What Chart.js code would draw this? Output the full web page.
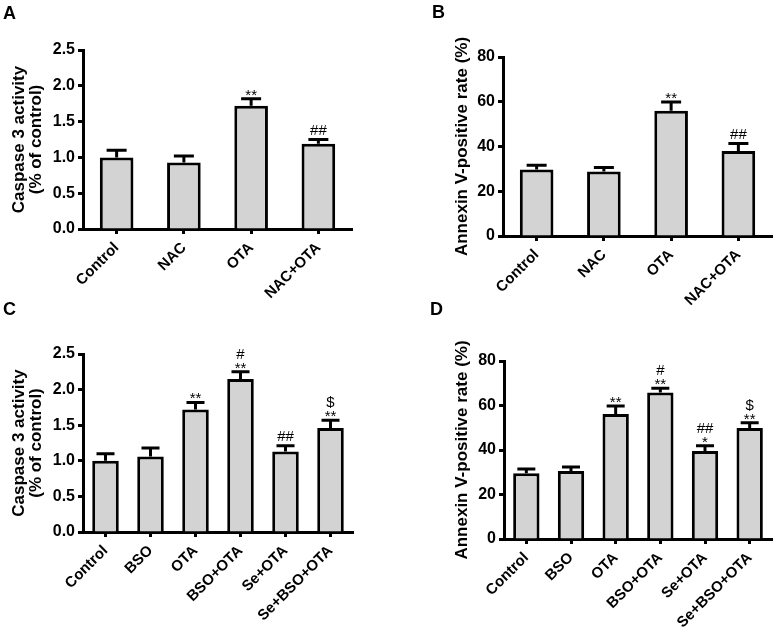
<!DOCTYPE html>
<html>
<head>
<meta charset="utf-8">
<script src="https://cdn.jsdelivr.net/npm/chart.js@4.4.1/dist/chart.umd.min.js"></script>
<style>
  body { margin: 0; background: #fff; }
  #wrap { position: relative; width: 774px; height: 627px; overflow: hidden; background: #fff; }
  canvas { position: absolute; }
  .tag { position: absolute; font: bold 18px 'Liberation Sans', Arial, sans-serif; line-height: 1; color: #000; }
</style>
</head>
<body>
<div id="wrap">
  <canvas id="chartA" width="387" height="320" style="left:0;top:0"></canvas>
  <canvas id="chartB" width="384" height="327" style="left:390px;top:0"></canvas>
  <canvas id="chartC" width="387" height="327" style="left:0;top:300px"></canvas>
  <canvas id="chartD" width="384" height="327" style="left:390px;top:300px"></canvas>
  <div class="tag" style="left:3px;top:4px">A</div>
  <div class="tag" style="left:432px;top:3px">B</div>
  <div class="tag" style="left:3px;top:300px">C</div>
  <div class="tag" style="left:430px;top:300px">D</div>
</div>
<script>
// group names
const groupsAB = ['Control', 'NAC', 'OTA', 'NAC+OTA'];
const groupsCD = ['Control', 'BSO', 'OTA', 'BSO+OTA', 'Se+OTA', 'Se+BSO+OTA'];

// panel A - caspase 3 (mean, SEM)
const caspaseA = [1.0, 0.93, 1.72, 1.19];
const caspaseAErr = [0.10, 0.09, 0.10, 0.06];
const marksA = [[], [], ['**'], ['##']];

// panel B - annexin V
const annexinB = [29.7, 28.8, 56.0, 38.0];
const annexinBErr = [1.9, 1.8, 3.9, 3.3];
const marksB = [[], [], ['**'], ['##']];

// panel C - caspase 3
const caspaseC = [1.0, 1.06, 1.72, 2.15, 1.13, 1.46];
const caspaseCErr = [0.10, 0.12, 0.10, 0.10, 0.08, 0.11];
const marksC = [[], [], ['**'], ['**', '#'], ['##'], ['**', '$']];

// panel D - annexin V
const annexinD = [29.6, 30.6, 56.2, 65.8, 39.5, 49.9];
const annexinDErr = [1.9, 1.8, 3.6, 1.9, 2.4, 2.3];
const marksD = [[], [], ['**'], ['**', '#'], ['*', '##'], ['**', '$']];

const caspaseTitle = ['Caspase 3 activity', '(% of control)'];
const annexinTitle = 'Annexin V-positive rate (%)';

const FONT = "'Liberation Sans', Arial, sans-serif";
const BAR_FILL = '#d3d3d3';

// error bars (upper only) and significance marks
const sigPlugin = {
  id: 'sig',
  afterDatasetsDraw(chart, args, opts) {
    const ctx = chart.ctx;
    const yScale = chart.scales.y;
    const vals = chart.data.datasets[0].data;
    const meta = chart.getDatasetMeta(0);
    ctx.save();
    ctx.strokeStyle = '#000';
    ctx.fillStyle = '#000';
    ctx.lineWidth = 3;
    ctx.font = '15px ' + FONT;
    ctx.textAlign = 'center';
    ctx.textBaseline = 'alphabetic';
    meta.data.forEach((bar, i) => {
      const yTop = yScale.getPixelForValue(vals[i] + opts.err[i]);
      ctx.beginPath();
      ctx.moveTo(bar.x, bar.y);
      ctx.lineTo(bar.x, yTop);
      ctx.moveTo(bar.x - opts.cap / 2, yTop);
      ctx.lineTo(bar.x + opts.cap / 2, yTop);
      ctx.stroke();
      let y = yTop;
      opts.marks[i].forEach((m, k) => {
        if (k === 0) y = m.startsWith('*') ? yTop + 1 : yTop - 5;
        else y -= 14;
        ctx.fillText(m, bar.x, y);
      });
    });
    ctx.restore();
  }
};

function makePanel(id, p) {
  new Chart(document.getElementById(id), {
    type: 'bar',
    data: {
      labels: p.labels,
      datasets: [{
        data: p.values,
        backgroundColor: BAR_FILL,
        borderColor: '#000',
        borderWidth: 3,
        barPercentage: p.barPct,
        categoryPercentage: 1
      }]
    },
    options: {
      responsive: false,
      animation: false,
      layout: { padding: p.padding },
      plugins: {
        legend: { display: false },
        tooltip: { enabled: false },
        sig: { err: p.err, marks: p.marks, cap: p.cap }
      },
      scales: {
        x: {
          offset: true,
          border: { color: '#000', width: 3 },
          grid: { offset: false, drawOnChartArea: false, drawTicks: true, tickLength: 5, tickColor: '#000', tickWidth: 3 },
          ticks: { autoSkip: false, minRotation: 45, maxRotation: 45, padding: 5, color: '#000', font: { family: FONT, size: 15, weight: 'bold' } },
          afterFit: s => { s.height = p.xHeight; }
        },
        y: {
          min: 0,
          max: p.max,
          border: { color: '#000', width: 3 },
          grid: { drawOnChartArea: false, drawTicks: true, tickLength: 5, tickColor: '#000', tickWidth: 3 },
          ticks: { stepSize: p.step, padding: 3, color: '#000', font: { family: FONT, size: 16, weight: 'bold' }, callback: p.fmt },
          title: { display: true, text: p.title, color: '#000', font: { family: FONT, size: 17, weight: 'bold', lineHeight: 1.0 }, padding: { top: p.titlePad, bottom: 0 } },
          afterFit: s => { s.width = p.yWidth; }
        }
      }
    },
    plugins: [sigPlugin]
  });
}

const fmt1 = v => v.toFixed(1);
const fmt0 = v => String(v);

makePanel('chartA', { labels: groupsAB, values: caspaseA, err: caspaseAErr, marks: marksA, max: 2.5, step: 0.5, fmt: fmt1,
  title: caspaseTitle, titlePad: 10.5, barPct: 0.5, cap: 20, yWidth: 83, xHeight: 91,
  padding: { top: 50, right: 35, left: 0, bottom: 0 } });
makePanel('chartB', { labels: groupsAB, values: annexinB, err: annexinBErr, marks: marksB, max: 80, step: 20, fmt: fmt0,
  title: annexinTitle, titlePad: 33.5, barPct: 0.5, cap: 20, yWidth: 83, xHeight: 91,
  padding: { top: 57, right: 2, left: 30, bottom: 0 } });
makePanel('chartC', { labels: groupsCD, values: caspaseC, err: caspaseCErr, marks: marksC, max: 2.5, step: 0.5, fmt: fmt1,
  title: caspaseTitle, titlePad: 10.5, barPct: 0.59, cap: 18, yWidth: 83, xHeight: 95,
  padding: { top: 54, right: 34, left: 0, bottom: 0 } });
makePanel('chartD', { labels: groupsCD, values: annexinD, err: annexinDErr, marks: marksD, max: 80, step: 20, fmt: fmt0,
  title: annexinTitle, titlePad: 33.5, barPct: 0.59, cap: 18, yWidth: 84, xHeight: 88,
  padding: { top: 61, right: 2, left: 30, bottom: 0 } });
</script>
</body>
</html>
